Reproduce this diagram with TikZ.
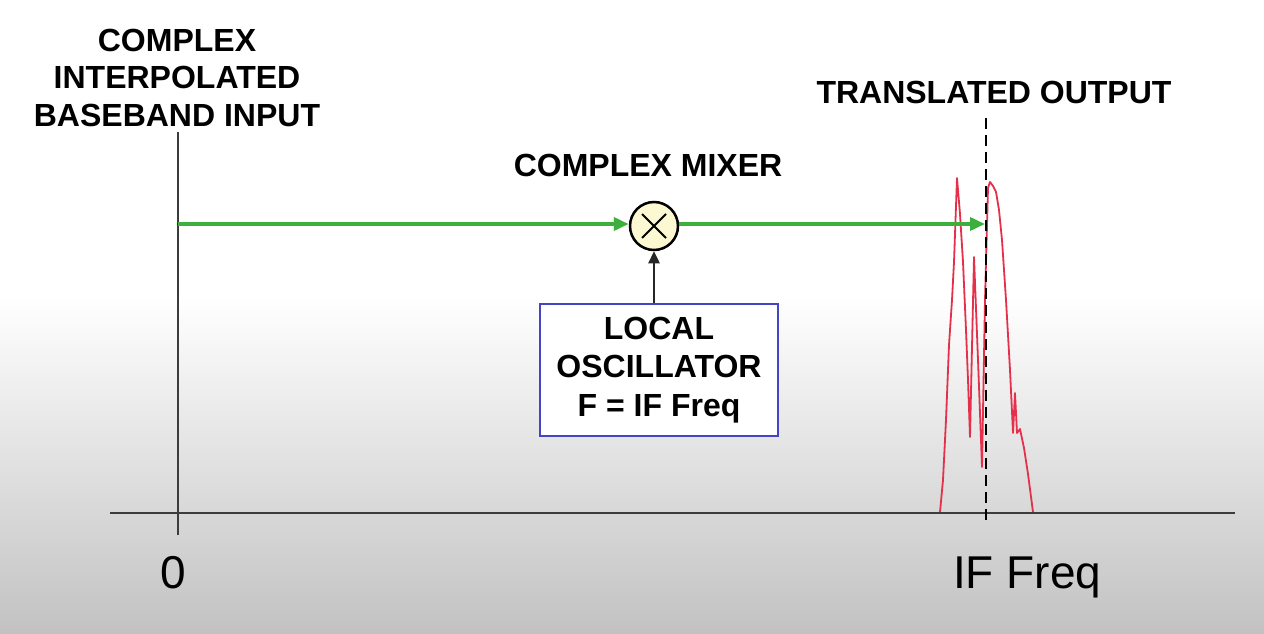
\documentclass[tikz,border=0pt]{standalone}
\usepackage{fontspec}
\setmainfont{Liberation Sans}
\usetikzlibrary{arrows.meta}
\definecolor{sigGreen}{HTML}{3CAF3C}
\definecolor{specRed}{HTML}{E5304C}
\definecolor{boxBlue}{HTML}{4444C4}
\definecolor{mixFill}{HTML}{FBF8D2}
\definecolor{axisGray}{HTML}{3C3C3C}
\tikzset{
  lbl/.style={font=\bfseries\fontsize{32}{37.5}\selectfont, align=center, inner sep=0pt},
  tick/.style={font=\fontsize{46}{50}\selectfont, inner sep=0pt},
  axisline/.style={draw=axisGray, line width=2.6pt},
  greenarrow/.style={draw=sigGreen, line width=3.6pt, -{Triangle[length=15pt,width=13pt]}},
  blackarrow/.style={draw=black!85, line width=2.4pt, -{Triangle[length=12pt,width=11pt]}},
  mixer/.style={circle, draw=black, line width=2.5pt, fill=mixFill, minimum size=48pt, inner sep=0pt},
  lobox/.style={draw=boxBlue, line width=1.8pt, fill=white, minimum width=238pt, minimum height=132pt, align=center, font=\bfseries\fontsize{32}{38.5}\selectfont, inner sep=0pt},
  spectrum/.style={draw=specRed, line width=1.8pt, line join=round},
  ifline/.style={draw=black, line width=2.2pt, dash pattern=on 11pt off 6pt}
}
\begin{document}
\begin{tikzpicture}[x=1pt,y=-1pt]
  % background
  \useasboundingbox (0,0) rectangle (1264,634);
  \fill[white] (0,0) rectangle (1264,298);
  \shade[top color=white, bottom color=black!24] (0,297) rectangle (1264,634);

  % axes
  \coordinate (axL) at (110,513);
  \coordinate (axR) at (1235,513);
  \coordinate (vTop) at (178,132);
  \coordinate (vBot) at (178,535);
  \coordinate (dTop) at (986,118);
  \coordinate (dBot) at (986,522);
  \draw[axisline] (axL) -- (axR);
  \draw[axisline] (vTop) -- (vBot);

  % spectrum
  \draw[spectrum] (940,512) -- (943,480) -- (946,420) -- (949,345) -- (952,300) -- (954,262)
    -- (957,178) -- (960,214) -- (963,262) -- (966,330) -- (968,380) -- (970,437)
    -- (974,257) -- (978,360) -- (982,467) -- (985,300) -- (988,188) -- (990,182)
    -- (993,186) -- (996,192) -- (999,210) -- (1002,240) -- (1006,300) -- (1010,370)
    -- (1013,433) -- (1015,393) -- (1017,433) -- (1020,429) -- (1024,448)
    -- (1028,474) -- (1033,512);

  % dashed IF line
  \draw[ifline] (dTop) -- (dBot);

  % labels
  \node[lbl, anchor=base] (inlbl) at (177,126) {COMPLEX\\INTERPOLATED\\BASEBAND INPUT};
  \node[lbl, anchor=base] (outlbl) at (994,103) {TRANSLATED OUTPUT};
  \node[lbl, anchor=base] (mixlbl) at (648,176) {COMPLEX MIXER};

  % mixer and oscillator
  \node[mixer] (mix) at (654,226) {};
  \draw[line width=2pt] ([shift={(-12,-12)}]mix.center) -- ([shift={(12,12)}]mix.center);
  \draw[line width=2pt] ([shift={(-12,12)}]mix.center) -- ([shift={(12,-12)}]mix.center);
  \node[lobox] (lo) at (659,370) {LOCAL\\OSCILLATOR\\F = IF Freq};

  % signal path
  \coordinate (src) at (178,224);
  \coordinate (dst) at (985,224);
  \draw[greenarrow] (src) -- (mix.west |- src);
  \draw[greenarrow] (mix.east |- src) -- (dst);
  \draw[blackarrow] (lo.north -| mix) -- (mix.south);

  % tick labels
  \node[tick, anchor=base] (zero) at (173,588) {0};
  \node[tick, anchor=base west] (iflbl) at (953,588) {IF Freq};
\end{tikzpicture}
\end{document}
